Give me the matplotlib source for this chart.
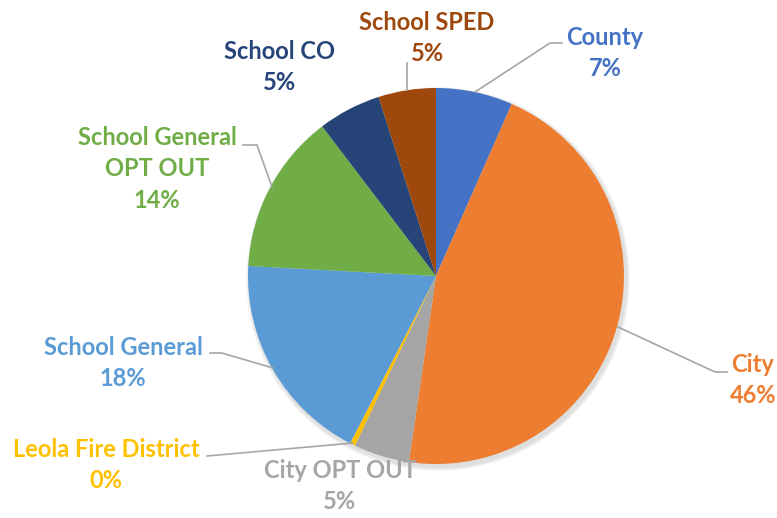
import matplotlib.pyplot as plt
from matplotlib.patches import Circle

labels = ["County", "City", "City OPT OUT", "Leola Fire District", "School General",
          "School General\nOPT OUT", "School CO", "School SPED"]
values = [6.6, 45.7, 4.8, 0.45, 18.3, 13.8, 5.4, 4.95]
colors = ["#4472C4", "#ED7D31", "#A5A5A5", "#FFC000", "#5B9BD5",
          "#70AD47", "#264478", "#9E480E"]

W, H = 777, 518
fig = plt.figure(figsize=(W / 100, H / 100), dpi=100)
ax = fig.add_axes([0, 0, 1, 1])

cx, cy, r = 436, H - 276, 188

# soft shadow
for i, a in enumerate([0.035, 0.035, 0.03, 0.025]):
    ax.add_patch(Circle((cx + 2, cy - 3), r + 4 - i, color="black", alpha=a, lw=0, zorder=0))

ax.pie(values, colors=colors, startangle=90, counterclock=False, center=(cx, cy),
       radius=r, frame=True, wedgeprops=dict(linewidth=0))
ax.set_xlim(0, W)
ax.set_ylim(0, H)
ax.set_aspect("equal")
ax.axis("off")

total = sum(values)
# label centre positions (image pixel coords) and leader lines
label_pos = [(605, 53), (753, 380), (340, 486), (106, 465), (123, 363),
             (157, 169), (280, 67), (427, 38)]
leaders = [
    [(562, 43), (550, 43), (475, 92)],
    [(618, 327), (715, 372), (727, 372)],
    None,
    [(207, 456), (353, 443)],
    [(210, 353), (222, 353), (273, 368)],
    [(243, 145), (257, 145), (272, 187)],
    None,
    [(407, 63), (407, 90)],
]

for lab, v, c, (x, y), ld in zip(labels, values, colors, label_pos, leaders):
    txt = f"{lab}\n{round(v / total * 100)}%"
    ax.text(x, H - y, txt, ha="center", va="center", color=c, fontsize=17,
            fontweight="bold", family="Lato", linespacing=1.45, zorder=5)
    if ld:
        ax.plot([p[0] for p in ld], [H - p[1] for p in ld], color="#A6A6A6", lw=1.2, zorder=1)

fig.savefig("out.png", dpi=100)
